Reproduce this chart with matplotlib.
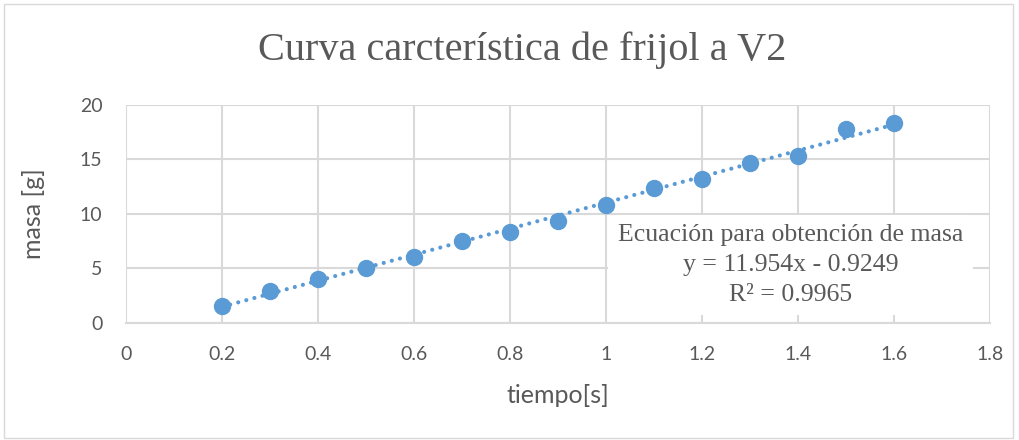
import matplotlib.pyplot as plt
import numpy as np
from matplotlib.patches import Rectangle

# datos
tiempo = [0.2, 0.3, 0.4, 0.5, 0.6, 0.7, 0.8, 0.9, 1.0, 1.1, 1.2, 1.3, 1.4, 1.5, 1.6]
masa = [1.56, 2.91, 3.99, 5.05, 6.06, 7.48, 8.36, 9.37, 10.78, 12.4, 13.17, 14.67, 15.3, 17.77, 18.3]
pendiente = 11.954
intercepto = -0.9249
r2 = 0.9965

x_ticks = [0, 0.2, 0.4, 0.6, 0.8, 1, 1.2, 1.4, 1.6, 1.8]
y_ticks = [0, 5, 10, 15, 20]

azul = '#5B9BD5'
gris = '#595959'
sans = ['Lato', 'DejaVu Sans']
serif = ['Liberation Serif', 'DejaVu Serif']

fig = plt.figure(figsize=(10.19, 4.4), dpi=100)
fig.patches.append(Rectangle((0.004, 0.005), 0.99, 0.985, transform=fig.transFigure,
                             fill=False, edgecolor='#D9D9D9', linewidth=1))
ax = fig.add_axes([0.1237, 0.2666, 0.8478, 0.4948])

# linea de tendencia
xt = np.array([tiempo[0], tiempo[-1]])
ax.plot(xt, pendiente * xt + intercepto, linestyle=(0, (0.01, 2.0)), color=azul,
        linewidth=3, dash_capstyle='round', zorder=2)
ax.plot(tiempo, masa, 'o', color=azul, markersize=11.5, zorder=3)

ax.set_xlim(0, 1.8)
ax.set_ylim(0, 20)
ax.set_xticks(x_ticks)
ax.set_xticklabels([f'{v:g}' for v in x_ticks])
ax.set_yticks(y_ticks)
ax.grid(True, color='#D9D9D9', linewidth=1.5)
ax.set_axisbelow(True)
for s in ['top', 'right', 'left']:
    ax.spines[s].set_visible(False)
ax.spines['bottom'].set_color('#D9D9D9')
ax.spines['bottom'].set_linewidth(1.5)
ax.tick_params(length=0, labelsize=14, labelcolor=gris, pad=17)
for lab in ax.get_xticklabels() + ax.get_yticklabels():
    lab.set_family(sans)

ax.set_xlabel('tiempo[s]', fontsize=18, color=gris, family=sans, labelpad=15)
ax.set_ylabel('masa [g]', fontsize=18, color=gris, family=sans, labelpad=25)
fig.text(0.512, 0.885, 'Curva carcterística de frijol a V2', ha='center', va='center',
         fontsize=29, color=gris, family=serif)

# etiqueta de la linea de tendencia (fondo blanco tapa la cuadricula)
etiqueta = f'Ecuación para obtención de masa\ny = {pendiente}x - {abs(intercepto)}\nR² = {r2}'
ax.text(1.385, 5.3, etiqueta, ha='center', va='center', multialignment='center',
        fontsize=18.5, color=gris, family=serif, linespacing=1.45, zorder=4,
        bbox=dict(boxstyle='square,pad=0.38', facecolor='white', edgecolor='none'))

fig.savefig('out.png', dpi=100)
